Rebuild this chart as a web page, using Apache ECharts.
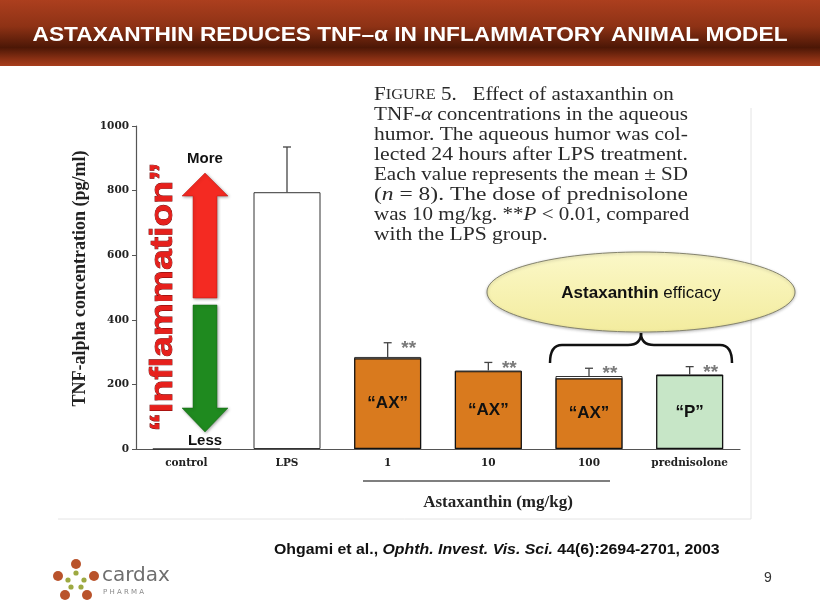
<!DOCTYPE html>
<html><head><meta charset="utf-8">
<script src="https://cdn.jsdelivr.net/npm/echarts@6/dist/echarts.min.js"></script>
<style>html,body{margin:0;padding:0;background:#fff}#c{width:820px;height:615px}</style>
</head><body><div id="c"></div>
<script>
// ---------- data ----------
const categories = ['control', 'LPS', '1', '10', '100', 'prednisolone'];
const meanValues = [0, 795, 285, 243, 226, 231];
const sdTopValues = [null, 935, 329, 268, 250, 255];
const highlightValues = [null, null, 281, 241, 219, 229];
const highlightLabels = ['', '', '“AX”', '“AX”', '“AX”', '“P”'];
const highlightKinds = ['', '', 'ax', 'ax', 'ax', 'p'];
const significance = ['', '', '**', '**', '**', '**'];
const yMin = 0, yMax = 1000, yInterval = 200;
const titleText = 'ASTAXANTHIN REDUCES TNF–α IN INFLAMMATORY ANIMAL MODEL';
const yAxisTitle = 'TNF-alpha concentration (pg/ml)';
const xGroupTitle = 'Astaxanthin (mg/kg)';
const captionLines = [
  '{sc|F}{scs|IGURE}{sc| 5.}   Effect of astaxanthin on',
  'TNF-{i|α} concentrations in the aqueous',
  'humor. The aqueous humor was col-',
  'lected 24 hours after LPS treatment.',
  'Each value represents the mean ± SD',
  '({i|n} = 8). The dose of prednisolone',
  'was 10 mg/kg. **{i|P} < 0.01, compared',
  'with the LPS group.'
];
const footerRich = '{b|Ohgami et al., }{i|Ophth. Invest. Vis. Sci.}{b| 44(6):2694-2701, 2003}';
const pageNumber = '9';

// ---------- helpers ----------
const mctx = document.createElement('canvas').getContext('2d');
function textW(t, font) { mctx.font = font; return mctx.measureText(t).width; }
function plain(s) { return s.replace(/\{\w+\|([^}]*)\}/g, '$1'); }

const colors = { ax: '#D97A1E', p: '#C7E6C7' };
const chart = echarts.init(document.getElementById('c'), null, { renderer: 'canvas' });

const titleFont = 'bold 21px "Liberation Sans"';
const titleScale = 755 / textW(titleText, titleFont);

const capFont = '18px "Liberation Serif"';
const capLeft = 374, capWidth = 314;
const capScales = captionLines.map(l => capWidth / textW(plain(l), capFont));
const capAvg = capScales.slice(0, 7).reduce((a, b) => a + b, 0) / 7;

const footFont = 'bold 14px "Liberation Sans"';
const footScale = 446 / textW(plain(footerRich), footFont);

const inflFont = 'bold 32px "Liberation Sans"';
const inflScale = 269 / textW('“Inflammation”', inflFont);

const braceStyle = { stroke: '#111', lineWidth: 2.5, fill: null };
const graphics = [
  { type: 'rect', shape: { x: 0, y: 0, width: 820, height: 66 }, z: 0,
    style: { fill: new echarts.graphic.LinearGradient(0, 0, 0, 1, [
      { offset: 0, color: '#AC3F1E' }, { offset: 0.4, color: '#8E3215' },
      { offset: 0.72, color: '#4C1706' }, { offset: 0.9, color: '#8C3114' }, { offset: 1, color: '#A83D1C' }]) } },
  { type: 'text', x: 410, y: 35.5, scaleX: titleScale, z: 10,
    style: { text: titleText, font: titleFont, fill: '#fff', align: 'center', verticalAlign: 'middle' } },
  // figure scan border
  { type: 'line', shape: { x1: 751, y1: 108, x2: 751, y2: 519 }, style: { stroke: '#e4e4e4', lineWidth: 1 } },
  { type: 'line', shape: { x1: 58, y1: 519, x2: 751, y2: 519 }, style: { stroke: '#e4e4e4', lineWidth: 1 } },
  // arrows
  { type: 'polygon', z: 20, shape: { points: [[193, 298], [217, 298], [217, 196], [228, 196], [205, 173], [182, 196], [193, 196]] },
    style: { fill: '#F42A22', stroke: '#c01a14', lineWidth: 0.5, shadowBlur: 3, shadowColor: 'rgba(0,0,0,0.35)', shadowOffsetX: 1, shadowOffsetY: 1 } },
  { type: 'polygon', z: 20, shape: { points: [[193, 305], [217, 305], [217, 408], [228, 408], [205, 432], [182, 408], [193, 408]] },
    style: { fill: '#1F8A1F', stroke: '#156a15', lineWidth: 0.5, shadowBlur: 3, shadowColor: 'rgba(0,0,0,0.35)', shadowOffsetX: 1, shadowOffsetY: 1 } },
  { type: 'text', x: 205, y: 159, z: 21, style: { text: 'More', font: 'bold 15px "Liberation Sans"', fill: '#111', align: 'center', verticalAlign: 'middle' } },
  { type: 'text', x: 205, y: 441, z: 21, style: { text: 'Less', font: 'bold 15px "Liberation Sans"', fill: '#111', align: 'center', verticalAlign: 'middle' } },
  { type: 'text', x: 163, y: 297, rotation: Math.PI / 2, scaleX: inflScale, z: 21,
    style: { text: '“Inflammation”', font: inflFont, fill: '#E6201C', stroke: '#6a0808', lineWidth: 0.8,
      align: 'center', verticalAlign: 'middle', shadowBlur: 2, shadowColor: 'rgba(0,0,0,0.45)', shadowOffsetX: 1, shadowOffsetY: 1 } },
  // ellipse callout
  { type: 'ellipse', z: 20, shape: { cx: 641, cy: 292, rx: 154, ry: 40 },
    style: { fill: new echarts.graphic.LinearGradient(0, 0, 0, 1, [{ offset: 0, color: '#FBF8C8' }, { offset: 1, color: '#F3EC9E' }]),
      stroke: '#85846e', lineWidth: 1, shadowBlur: 3, shadowColor: 'rgba(0,0,0,0.25)', shadowOffsetY: 1 } },
  { type: 'text', x: 641, y: 293, z: 21,
    style: { text: '{b|Astaxanthin} efficacy', font: '17px "Liberation Sans"', fill: '#111', align: 'center', verticalAlign: 'middle',
      rich: { b: { font: 'bold 17px "Liberation Sans"', fill: '#111' } } } },
  // brace
  { type: 'bezierCurve', z: 20, shape: { x1: 550, y1: 363, cpx1: 550, cpy1: 345, x2: 562, y2: 345 }, style: braceStyle },
  { type: 'line', z: 20, shape: { x1: 562, y1: 345, x2: 628, y2: 345 }, style: braceStyle },
  { type: 'bezierCurve', z: 20, shape: { x1: 628, y1: 345, cpx1: 641, cpy1: 345, x2: 641, y2: 333 }, style: braceStyle },
  { type: 'bezierCurve', z: 20, shape: { x1: 641, y1: 333, cpx1: 641, cpy1: 345, x2: 654, y2: 345 }, style: braceStyle },
  { type: 'line', z: 20, shape: { x1: 654, y1: 345, x2: 720, y2: 345 }, style: braceStyle },
  { type: 'bezierCurve', z: 20, shape: { x1: 720, y1: 345, cpx1: 732, cpy1: 345, x2: 732, y2: 363 }, style: braceStyle },
  // astaxanthin dose grouping
  { type: 'line', shape: { x1: 363, y1: 481, x2: 610, y2: 481 }, style: { stroke: '#555', lineWidth: 1.3 } },
  { type: 'text', x: 498, y: 503, style: { text: xGroupTitle, font: 'bold 17px "Liberation Serif"', fill: '#222', align: 'center', verticalAlign: 'middle' } },
  // footer
  { type: 'text', x: 274, y: 550, scaleX: footScale,
    style: { text: footerRich, font: footFont, fill: '#111', verticalAlign: 'middle',
      rich: { b: { font: footFont, fill: '#111' }, i: { font: 'italic bold 14px "Liberation Sans"', fill: '#111' } } } },
  { type: 'text', x: 768, y: 578, style: { text: pageNumber, font: '14px "Liberation Sans"', fill: '#333', align: 'center', verticalAlign: 'middle' } },
  // logo
  ...[[76, 564], [58, 576], [94, 576], [65, 595], [87, 595]].map(p => ({ type: 'circle', shape: { cx: p[0], cy: p[1], r: 5 }, style: { fill: '#B9532B' } })),
  ...[[76, 573], [68, 580], [84, 580], [71, 587], [81, 587]].map(p => ({ type: 'circle', shape: { cx: p[0], cy: p[1], r: 2.6 }, style: { fill: '#9DA941' } })),
  { type: 'text', x: 102, y: 576, style: { text: 'cardax', font: '20px "DejaVu Sans"', fill: '#6e6e6e', verticalAlign: 'middle' } },
  { type: 'text', x: 103, y: 592, style: { text: 'P H A R M A', font: '7px "DejaVu Sans"', fill: '#8a8a8a', verticalAlign: 'middle' } }
];
captionLines.forEach((l, k) => {
  graphics.push({ type: 'text', x: capLeft, y: 95 + 20 * k, scaleX: k < 7 ? capScales[k] : capAvg,
    style: { text: l, font: capFont, fill: '#2a2a2a', verticalAlign: 'middle',
      rich: { i: { font: 'italic ' + capFont, fill: '#2a2a2a' }, sc: { font: capFont, fill: '#2a2a2a' }, scs: { font: '14px "Liberation Serif"', fill: '#2a2a2a' } } } });
});

const sdData = categories.map((c, i) => sdTopValues[i] == null ? null : [i, sdTopValues[i], meanValues[i]]).filter(d => d);

const option = {
  animation: false,
  backgroundColor: '#fff',
  grid: { left: 136, right: 80, top: 126, bottom: 166 },
  xAxis: {
    type: 'category', data: categories,
    axisLine: { lineStyle: { color: '#555', width: 1.2 } },
    axisTick: { alignWithLabel: true, length: 4, lineStyle: { color: '#555' } },
    axisLabel: { color: '#222', fontFamily: 'DejaVu Serif', fontWeight: 'bold', fontSize: 10.5, margin: 9 }
  },
  yAxis: {
    type: 'value', min: yMin, max: yMax, interval: yInterval,
    name: yAxisTitle, nameLocation: 'middle', nameGap: 46,
    nameTextStyle: { color: '#222', fontFamily: 'Liberation Serif', fontWeight: 'bold', fontSize: 18, padding: [0, 0, 0, 18] },
    axisLine: { show: true, lineStyle: { color: '#555', width: 1.2 } },
    axisTick: { show: true, length: 4, lineStyle: { color: '#555' } },
    splitLine: { show: false },
    axisLabel: { color: '#222', fontFamily: 'DejaVu Serif', fontWeight: 'bold', fontSize: 10.5, margin: 7,
      formatter: v => String(v) }
  },
  series: [
    { name: 'Mean', type: 'bar', data: meanValues, barWidth: 67, z: 2,
      itemStyle: { color: '#fff', borderColor: '#333', borderWidth: 1 } },
    { name: 'SD', type: 'custom', data: sdData, z: 3,
      renderItem: function (params, api) {
        const i = api.value(0);
        const top = api.coord([i, api.value(1)]);
        const base = api.coord([i, api.value(2)]);
        const children = [
          { type: 'line', shape: { x1: top[0], y1: top[1], x2: base[0], y2: base[1] }, style: { stroke: '#444', lineWidth: 1.3 } },
          { type: 'line', shape: { x1: top[0] - 4, y1: top[1], x2: top[0] + 4, y2: top[1] }, style: { stroke: '#444', lineWidth: 1.3 } }
        ];
        if (significance[i]) children.push({ type: 'text', x: top[0] + 21, y: top[1] + 6,
          style: { text: significance[i], font: 'bold 19px "Liberation Sans"', fill: '#7a7a7a', align: 'center', verticalAlign: 'middle' } });
        return { type: 'group', children: children };
      } },
    { name: 'Highlight', type: 'bar', barGap: '-100%', barWidth: 67, z: 4,
      data: highlightValues.map((v, i) => v == null ? null : { value: v, itemStyle: { color: colors[highlightKinds[i]] } }),
      itemStyle: { borderColor: '#111', borderWidth: 1.2 },
      label: { show: true, position: 'inside', formatter: p => highlightLabels[p.dataIndex], color: '#111',
        fontFamily: 'Liberation Sans', fontWeight: 'bold', fontSize: 17 } }
  ],
  graphic: { elements: graphics }
};
chart.setOption(option);
</script></body></html>
